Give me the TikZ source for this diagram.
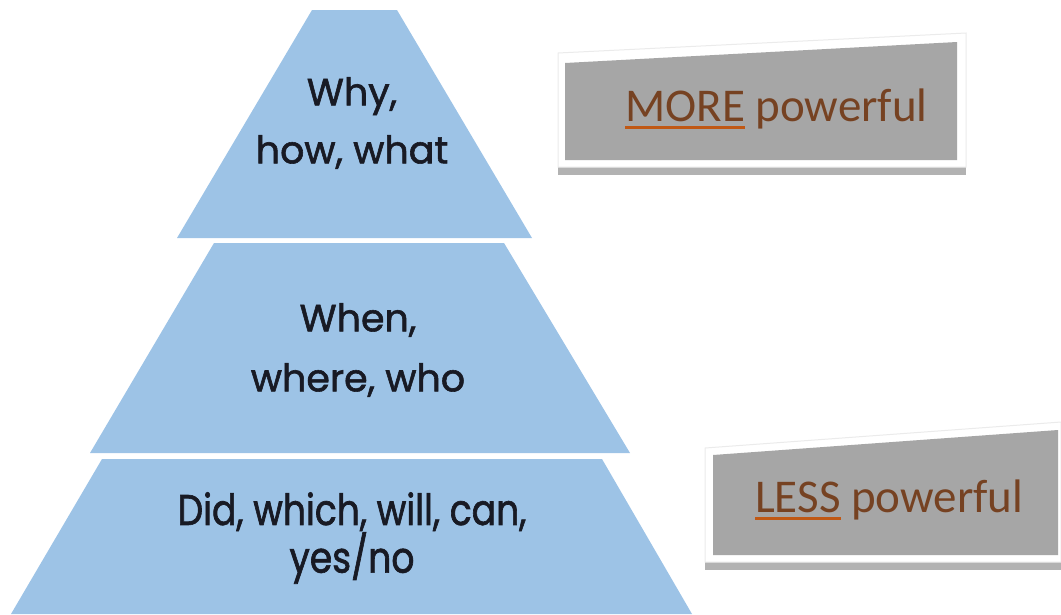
\documentclass[tikz,border=0pt]{standalone}
\usepackage{fontspec}
\setmainfont{Poppins}[FakeBold=1.5]
\newfontfamily\cardfont{Carlito}
\newfontfamily\narrowfont[FakeStretch=0.84, FakeBold=1.5]{Poppins}
\usepackage{tikz}
\definecolor{pyrblue}{RGB}{157,195,230}
\definecolor{qdark}{RGB}{24,26,36}
\definecolor{cardgray}{RGB}{166,166,166}
\definecolor{cardshadow}{RGB}{178,178,178}
\definecolor{keybrown}{RGB}{118,66,34}
\definecolor{restbrown}{RGB}{150,116,98}
\definecolor{lineorange}{RGB}{192,88,20}
\newcommand\keyword[1]{\setbox0\hbox{\color{keybrown}#1}%
  \rlap{\color{lineorange}\raisebox{-8pt}{\rule{\wd0}{3pt}}}\box0\relax}
\tikzset{layer/.style={fill=pyrblue},
  qtext/.style={align=center, text=qdark, inner sep=0pt},
  cardrim/.style={fill=white, draw=black!8, line width=1pt},
  card/.style={fill=cardgray},
  cardtext/.style={anchor=base west, inner sep=0pt, text=restbrown,
    font=\cardfont\fontsize{47}{50}\selectfont}}

\begin{document}
\begin{tikzpicture}[x=1pt, y=-1pt]
  \useasboundingbox (0,0) rectangle (1061,614);
  % pyramid, top to bottom
  \fill[layer] (312,10) -- (397,10) -- (532,238) -- (177,238) -- cycle;
  \fill[layer] (214,243) -- (504,243) -- (630,453) -- (90,453) -- cycle;
  \fill[layer] (102,459) -- (602,459) -- (692,614) -- (11,614) -- cycle;
  \node[qtext, font=\fontsize{38}{58}\selectfont] (why) at (352,123) {Why,\\how, what};
  \node[qtext, font=\fontsize{38}{60}\selectfont] (when) at (358,350) {When,\\where, who};
  \node[qtext, font=\narrowfont\fontsize{43}{37}\selectfont] (did) at (352,538) {Did, which, will, can,\\yes/no};
  % cards
  \fill[cardshadow] (558,167) rectangle (966,175);
  \filldraw[cardrim] (558,53) -- (966,33) -- (966,167) -- (558,167) -- cycle;
  \fill[card] (565,63) -- (957,42) -- (957,160) -- (565,160) -- cycle;
  \node[cardtext] (more) at (625,121) {\keyword{MORE} powerful};
  \fill[cardshadow] (705,562) rectangle (1061,570);
  \filldraw[cardrim] (705,448) -- (1061,422) -- (1061,562) -- (705,562) -- cycle;
  \fill[card] (713,455) -- (1058,430) -- (1058,555) -- (713,555) -- cycle;
  \node[cardtext] (less) at (755,512) {\keyword{LESS} powerful};
\end{tikzpicture}
\end{document}
